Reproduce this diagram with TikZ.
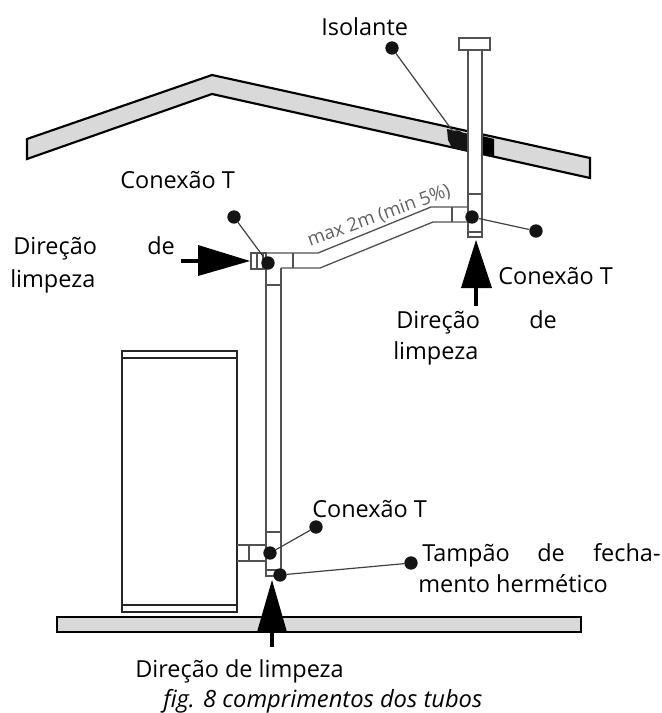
\documentclass[tikz,border=0pt]{standalone}
\usepackage{fontspec}
\setmainfont{Open Sans}
\tikzset{
  pipe/.style={draw=black!68,line width=1pt},
  lead/.style={draw=black!75,line width=.9pt},
  dotn/.style={circle,fill=black!92,inner sep=0pt,minimum size=10pt},
  lab/.style={inner sep=0pt,anchor=base west,font=\fontsize{17.6pt}{17.6pt}\selectfont},
  bigarrow/.style={fill=black,draw=none},
  shaft/.style={draw=black,line width=3pt}
}
\begin{document}
\begin{tikzpicture}[x=0.75pt,y=-0.75pt]
\useasboundingbox (0,0) rectangle (661,713);
% roof
\draw[fill=black!15,line width=1.6pt,line join=miter] (27,139) -- (212,75) -- (590,158) -- (590,178) -- (212,94) -- (27,159) -- cycle;
\fill[black!92] (447,129) -- (469,134) -- (469,152) -- (452,148) -- (448,140) -- cycle;
\fill[black] (482,136) -- (494,139) -- (494,157) -- (482,155) -- cycle;
% floor
\draw[fill=black!15,line width=1.5pt] (57,617) rectangle (581,632);
% boiler
\draw[fill=white,line width=1.5pt,draw=black!85] (122,351) rectangle (237,612);
\draw[line width=1pt,draw=black!85] (122,358) -- (237,358) (122,605) -- (237,605);
% top vertical pipe
\draw[pipe,fill=white] (468,50) -- (468,237) -- (482,237) -- (482,50);
\draw[pipe,fill=white] (459,38) rectangle (490,50);
\draw[pipe] (468,194) -- (482,194) (468,232) -- (482,232);
% sloped pipe
\draw[pipe] (468,207) -- (431,207) -- (318,253) -- (253,253) (468,222) -- (433,222) -- (320,268) -- (281,268);
\draw[pipe] (452,207) -- (452,222) (293,253) -- (293,268);
% left T cap
\draw[pipe] (251,253) rectangle (266,269);
\draw[pipe] (257,253) -- (257,269) (263,253) -- (263,269);
% main vertical pipe
\draw[pipe] (266,269) -- (266,576) -- (281,576) (281,268) -- (281,576);
\draw[pipe] (266,285) -- (281,285) (266,532) -- (281,532) (266,570) -- (281,570);
% boiler branch
\draw[pipe] (237,545) -- (266,545) (237,561) -- (266,561) (249,545) -- (249,561);
% arrows
\draw[shaft] (181,261) -- (200,261);
\fill[bigarrow] (198,245) -- (250,261) -- (198,276) -- cycle;
\draw[shaft] (476,285) -- (476,306);
\fill[bigarrow] (476,240) -- (492,288) -- (461,288) -- cycle;
\draw[shaft] (272,630) -- (272,647);
\fill[bigarrow] (272,580) -- (287,632) -- (257,632) -- cycle;
% dots
\node[dotn] (dIa) at (392,48) {};
\node[dotn] (dIb) at (457,137) {};
\node[dotn] (dRa) at (472,217) {};
\node[dotn] (dRb) at (536,231) {};
\node[dotn] (dLa) at (234,217) {};
\node[dotn] (dLb) at (268,263) {};
\node[dotn] (dBa) at (316,527) {};
\node[dotn] (dBb) at (270,553) {};
\node[dotn] (dCa) at (280,575) {};
\node[dotn] (dCb) at (411,563) {};
\draw[lead] (dIa) -- (dIb);
\draw[lead] (dRa) -- (dRb);
\draw[lead] (dLa) -- (dLb);
\draw[lead] (dBa) -- (dBb);
\draw[lead] (dCa) -- (dCb);
% labels
\node[lab] (t1) at (321,36) {Isolante};
\node[lab] (t2) at (120,188) {Conexão T};
\node[lab] (t3) at (13,254) {Direção};
\node[lab] (t3b) at (147,254) {de};
\node[lab] (t4) at (10,287) {limpeza};
\node[lab] (t5) at (498,284) {Conexão T};
\node[lab] (t6) at (396,328) {Direção};
\node[lab] (t6b) at (529,328) {de};
\node[lab] (t7) at (393,359) {limpeza};
\node[lab] (t8) at (312,517) {Conexão T};
\node[lab] (t9) at (422,561) {Tampão};
\node[lab] (t9b) at (537,561) {de};
\node[lab] (t9c) at (593,561) {fecha-};
\node[lab] (t10) at (418,592) {mento hermético};
\node[lab] (t11) at (135,677) {Direção de limpeza};
\node[lab,font=\fontsize{17.8pt}{17.8pt}\selectfont\itshape] (t12) at (163,707) {fig. 8 comprimentos dos tubos};
\node[inner sep=0pt,rotate=20,text=black!62,font=\fontsize{14pt}{14pt}\selectfont] (t13) at (379,216) {max 2m (min 5\%)};
\end{tikzpicture}
\end{document}
